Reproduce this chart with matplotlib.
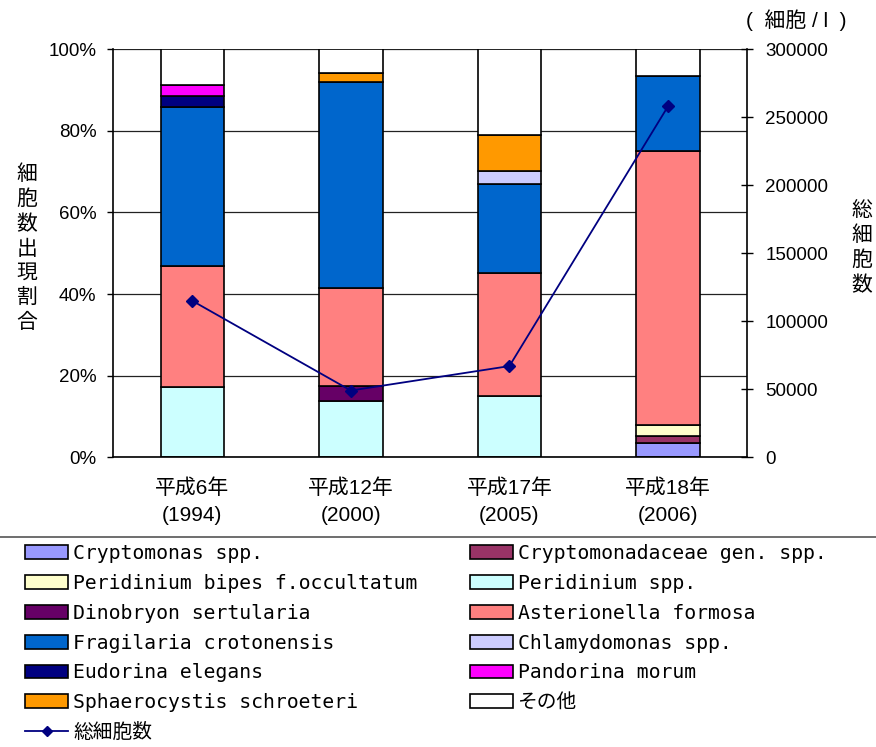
import matplotlib
matplotlib.use('Agg')
import matplotlib.pyplot as plt
from matplotlib.lines import Line2D
from matplotlib.patches import Patch
import numpy as np

YEARS = ["平成6年\n(1994)", "平成12年\n(2000)", "平成17年\n(2005)", "平成18年\n(2006)"]

SPECIES = [
    "Cryptomonas spp.",
    "Cryptomonadaceae gen. spp.",
    "Peridinium bipes f.occultatum",
    "Peridinium spp.",
    "Dinobryon sertularia",
    "Asterionella formosa",
    "Fragilaria crotonensis",
    "Chlamydomonas spp.",
    "Eudorina elegans",
    "Pandorina morum",
    "Sphaerocystis schroeteri",
    "その他",
]
COLORS = ["#9999FF", "#993366", "#FFFFCC", "#CCFFFF", "#660066", "#FF8080",
          "#0066CC", "#CCCCFF", "#000080", "#FF00FF", "#FF9900", "#FFFFFF"]

# share of cells (%) per year, bottom to top
CRYPTOMONAS = [0, 0, 0, 3.5]
CRYPTOMONADACEAE = [0, 0, 0, 1.6]
PERIDINIUM_BIPES = [0, 0, 0, 2.8]
PERIDINIUM = [17.2, 13.7, 15.0, 0]
DINOBRYON = [0, 3.7, 0, 0]
ASTERIONELLA = [29.6, 24.0, 30.1, 67.1]
FRAGILARIA = [39.0, 50.5, 21.8, 18.4]
CHLAMYDOMONAS = [0, 0, 3.3, 0]
EUDORINA = [2.7, 0, 0, 0]
PANDORINA = [2.7, 0, 0, 0]
SPHAEROCYSTIS = [0, 2.2, 8.7, 0]
OTHERS = [8.8, 5.9, 21.1, 6.6]

TOTAL_CELLS = [115000, 49000, 67000, 258000]

SHARES = [CRYPTOMONAS, CRYPTOMONADACEAE, PERIDINIUM_BIPES, PERIDINIUM, DINOBRYON,
          ASTERIONELLA, FRAGILARIA, CHLAMYDOMONAS, EUDORINA, PANDORINA,
          SPHAEROCYSTIS, OTHERS]

NAVY = "#000080"
JP = ["Liberation Sans", "Noto Sans CJK JP"]
LEG_FONT = ["DejaVu Sans Mono", "Noto Sans CJK JP"]

fig = plt.figure(figsize=(8.76, 7.47), dpi=100)
ax = fig.add_axes([0.129, 0.388, 0.724, 0.546])

x = np.arange(len(YEARS))
bottom = np.zeros(len(YEARS))
for vals, col in zip(SHARES, COLORS):
    vals = np.array(vals, dtype=float)
    keep = vals > 0
    ax.bar(x[keep], vals[keep], bottom=bottom[keep], width=0.4,
           color=col, edgecolor="black", linewidth=1.2, zorder=2)
    bottom += vals

ax.set_xlim(-0.5, 3.5)
ax.set_ylim(0, 100)
ax.set_yticks(range(0, 101, 20))
ax.set_yticklabels([f"{v}%" for v in range(0, 101, 20)], fontsize=13.5,
                   family="Liberation Sans")
ax.set_xticks(x)
ax.set_xticklabels(YEARS, family=JP, fontsize=15, linespacing=1.55)
ax.tick_params(axis="x", length=0, pad=15)
ax.tick_params(axis="y", direction="out", length=4, width=1, pad=8)
ax.yaxis.grid(True, color="#222222", linewidth=0.9)
ax.set_axisbelow(True)
ax.spines["top"].set_visible(False)
ax.spines["right"].set_visible(False)
ax.spines["left"].set_linewidth(1.2)
ax.spines["bottom"].set_linewidth(1.2)

ax2 = ax.twinx()
ax2.plot(x, TOTAL_CELLS, color=NAVY, linewidth=1.3, marker="D", markersize=6,
         zorder=5)
ax2.set_ylim(0, 300000)
ax2.set_yticks(range(0, 300001, 50000))
ax2.set_yticklabels([str(v) for v in range(0, 300001, 50000)], fontsize=13.5,
                    family="Liberation Sans")
ax2.tick_params(axis="y", direction="inout", length=8, width=1, pad=9)
for side in ["top", "left", "bottom"]:
    ax2.spines[side].set_visible(False)
ax2.spines["right"].set_linewidth(1.2)

fig.text(27 / 876, 1 - 248 / 747, "\n".join("細胞数出現割合"), family=JP,
         fontsize=15, ha="center", va="center", linespacing=1.36)
fig.text(862 / 876, 1 - 248 / 747, "\n".join("総細胞数"), family=JP,
         fontsize=15, ha="center", va="center", linespacing=1.36)
fig.text(796 / 876, 1 - 20 / 747, "(  細胞 / l  )", family=JP,
         fontsize=15, ha="center", va="center")

# legend, rows read left to right like the original
handles = [Patch(facecolor=c, edgecolor="black", linewidth=1.2) for c in COLORS]
line_handle = Line2D([], [], color=NAVY, linewidth=1.3, marker="D", markersize=5)
left_col = [0, 2, 4, 6, 8, 10]
right_col = [1, 3, 5, 7, 9, 11]
order_h = [handles[i] for i in left_col] + [line_handle] + [handles[i] for i in right_col]
order_l = [SPECIES[i] for i in left_col] + ["総細胞数"] + [SPECIES[i] for i in right_col]
fig.legend(order_h, order_l, ncol=2, loc="upper left",
           bbox_to_anchor=(25 / 876, 1 - 544 / 747), frameon=False,
           prop={"family": LEG_FONT, "size": 14.2},
           handlelength=2.2, handleheight=0.7, handletextpad=0.25,
           labelspacing=0.55, columnspacing=2.65, borderaxespad=0,
           borderpad=0)

fig.add_artist(Line2D([0, 1], [1 - 537 / 747, 1 - 537 / 747],
                      color="#555555", linewidth=1.2,
                      transform=fig.transFigure))

fig.savefig("out.png", dpi=100)
